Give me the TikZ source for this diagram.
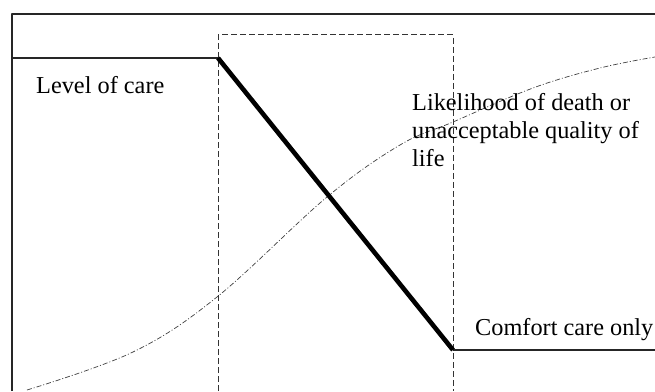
\documentclass[tikz,border=0pt]{standalone}
\usepackage{fontspec}
\setmainfont{Liberation Serif}
\begin{document}
\begin{tikzpicture}[x=1pt,y=1pt,line join=round,
	lbl/.style={inner sep=0pt,font=\fontsize{24.3}{28}\selectfont,align=left},
	frameline/.style={black!85,line width=1.2pt},
	window/.style={black!80,line width=1pt,dash pattern=on 6pt off 3pt},
	risk/.style={black!75,line width=0.7pt,dash pattern=on 5pt off 2pt on 1pt off 2pt}]
	\useasboundingbox (0,0) rectangle (655,391);
	\path
	(12,0) coordinate (O)
	(12,377) coordinate (T)
	(655,377) coordinate (TR)
	(12,333) coordinate (L)
	(218,333) coordinate (A)
	(453,41) coordinate (B)
	(655,41) coordinate (R)
	(218,0) coordinate (D1)
	(218,356) coordinate (D2)
	(453,356) coordinate (D3)
	(453,0) coordinate (D4);
	\draw[frameline] (O)--(T)--(TR);
	\draw[frameline] (L)--(A) (B)--(R);
	\draw[window] (D1)--(D2)--(D3)--(D4);
	\draw[risk] plot[smooth,tension=0.6] coordinates{(27,1) (133,39) (217,94) (327,194) (400,246) (453,269) (533,303) (600,323) (655,334)};
	\draw[line width=4.6pt] (A)--(B);
	\node[lbl,anchor=base west] (level) at (36,297) {Level of care};
	\node[lbl,anchor=base west] (likely) at (412,224) {Likelihood of death or\\unacceptable quality of\\life};
	\node[lbl,anchor=base west] (comfort) at (475,56) {Comfort care only};
\end{tikzpicture}
\end{document}
